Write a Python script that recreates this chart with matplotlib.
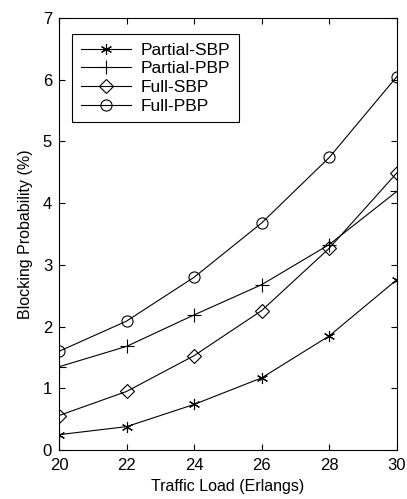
import matplotlib
matplotlib.use('Agg')
import matplotlib.pyplot as plt

plt.rcParams['font.family'] = ['Liberation Sans', 'DejaVu Sans']

# traffic load (Erlangs)
load = [20, 22, 24, 26, 28, 30]

# blocking probability (%)
partial_sbp = [0.25, 0.38, 0.74, 1.17, 1.85, 2.76]
partial_pbp = [1.35, 1.68, 2.19, 2.68, 3.33, 4.19]
full_sbp = [0.56, 0.95, 1.53, 2.26, 3.27, 4.49]
full_pbp = [1.60, 2.09, 2.80, 3.68, 4.74, 6.05]

fig = plt.figure(figsize=(4.07, 4.99), dpi=100)
ax = fig.add_axes([0.145, 0.098, 0.83, 0.866])

style = dict(color='black', linewidth=0.8, markerfacecolor='none',
             markeredgecolor='black', markeredgewidth=0.8)
# asterisk marker like matlab's '*'
ax.plot(load, partial_sbp, marker=(6, 2, 0), markersize=8, label='Partial-SBP', **style)
ax.plot(load, partial_pbp, marker='+', markersize=10, label='Partial-PBP', **style)
ax.plot(load, full_sbp, marker='D', markersize=7, label='Full-SBP', **style)
ax.plot(load, full_pbp, marker='o', markersize=8, label='Full-PBP', **style)

ax.set_xlim(20, 30)
ax.set_ylim(0, 7)
ax.set_xticks(load)
ax.set_yticks(range(0, 8))
ax.tick_params(direction='in', top=True, right=True, labelsize=12, length=4)
ax.tick_params(axis='x', pad=6)
ax.tick_params(axis='y', pad=5)
for s in ax.spines.values():
    s.set_linewidth(0.8)

ax.set_xlabel('Traffic Load (Erlangs)', fontsize=11.5, labelpad=4)
ax.set_ylabel('Blocking Probability (%)', fontsize=11.5, labelpad=7)

leg = ax.legend(loc='upper left', bbox_to_anchor=(0.038, 0.963),
                fontsize=12.5, handlelength=2.9,
                fancybox=False, framealpha=1, edgecolor='black',
                borderaxespad=0, borderpad=0.5, labelspacing=0.2,
                handletextpad=0.55)
leg.get_frame().set_linewidth(0.8)

fig.savefig('out.png', dpi=100)
